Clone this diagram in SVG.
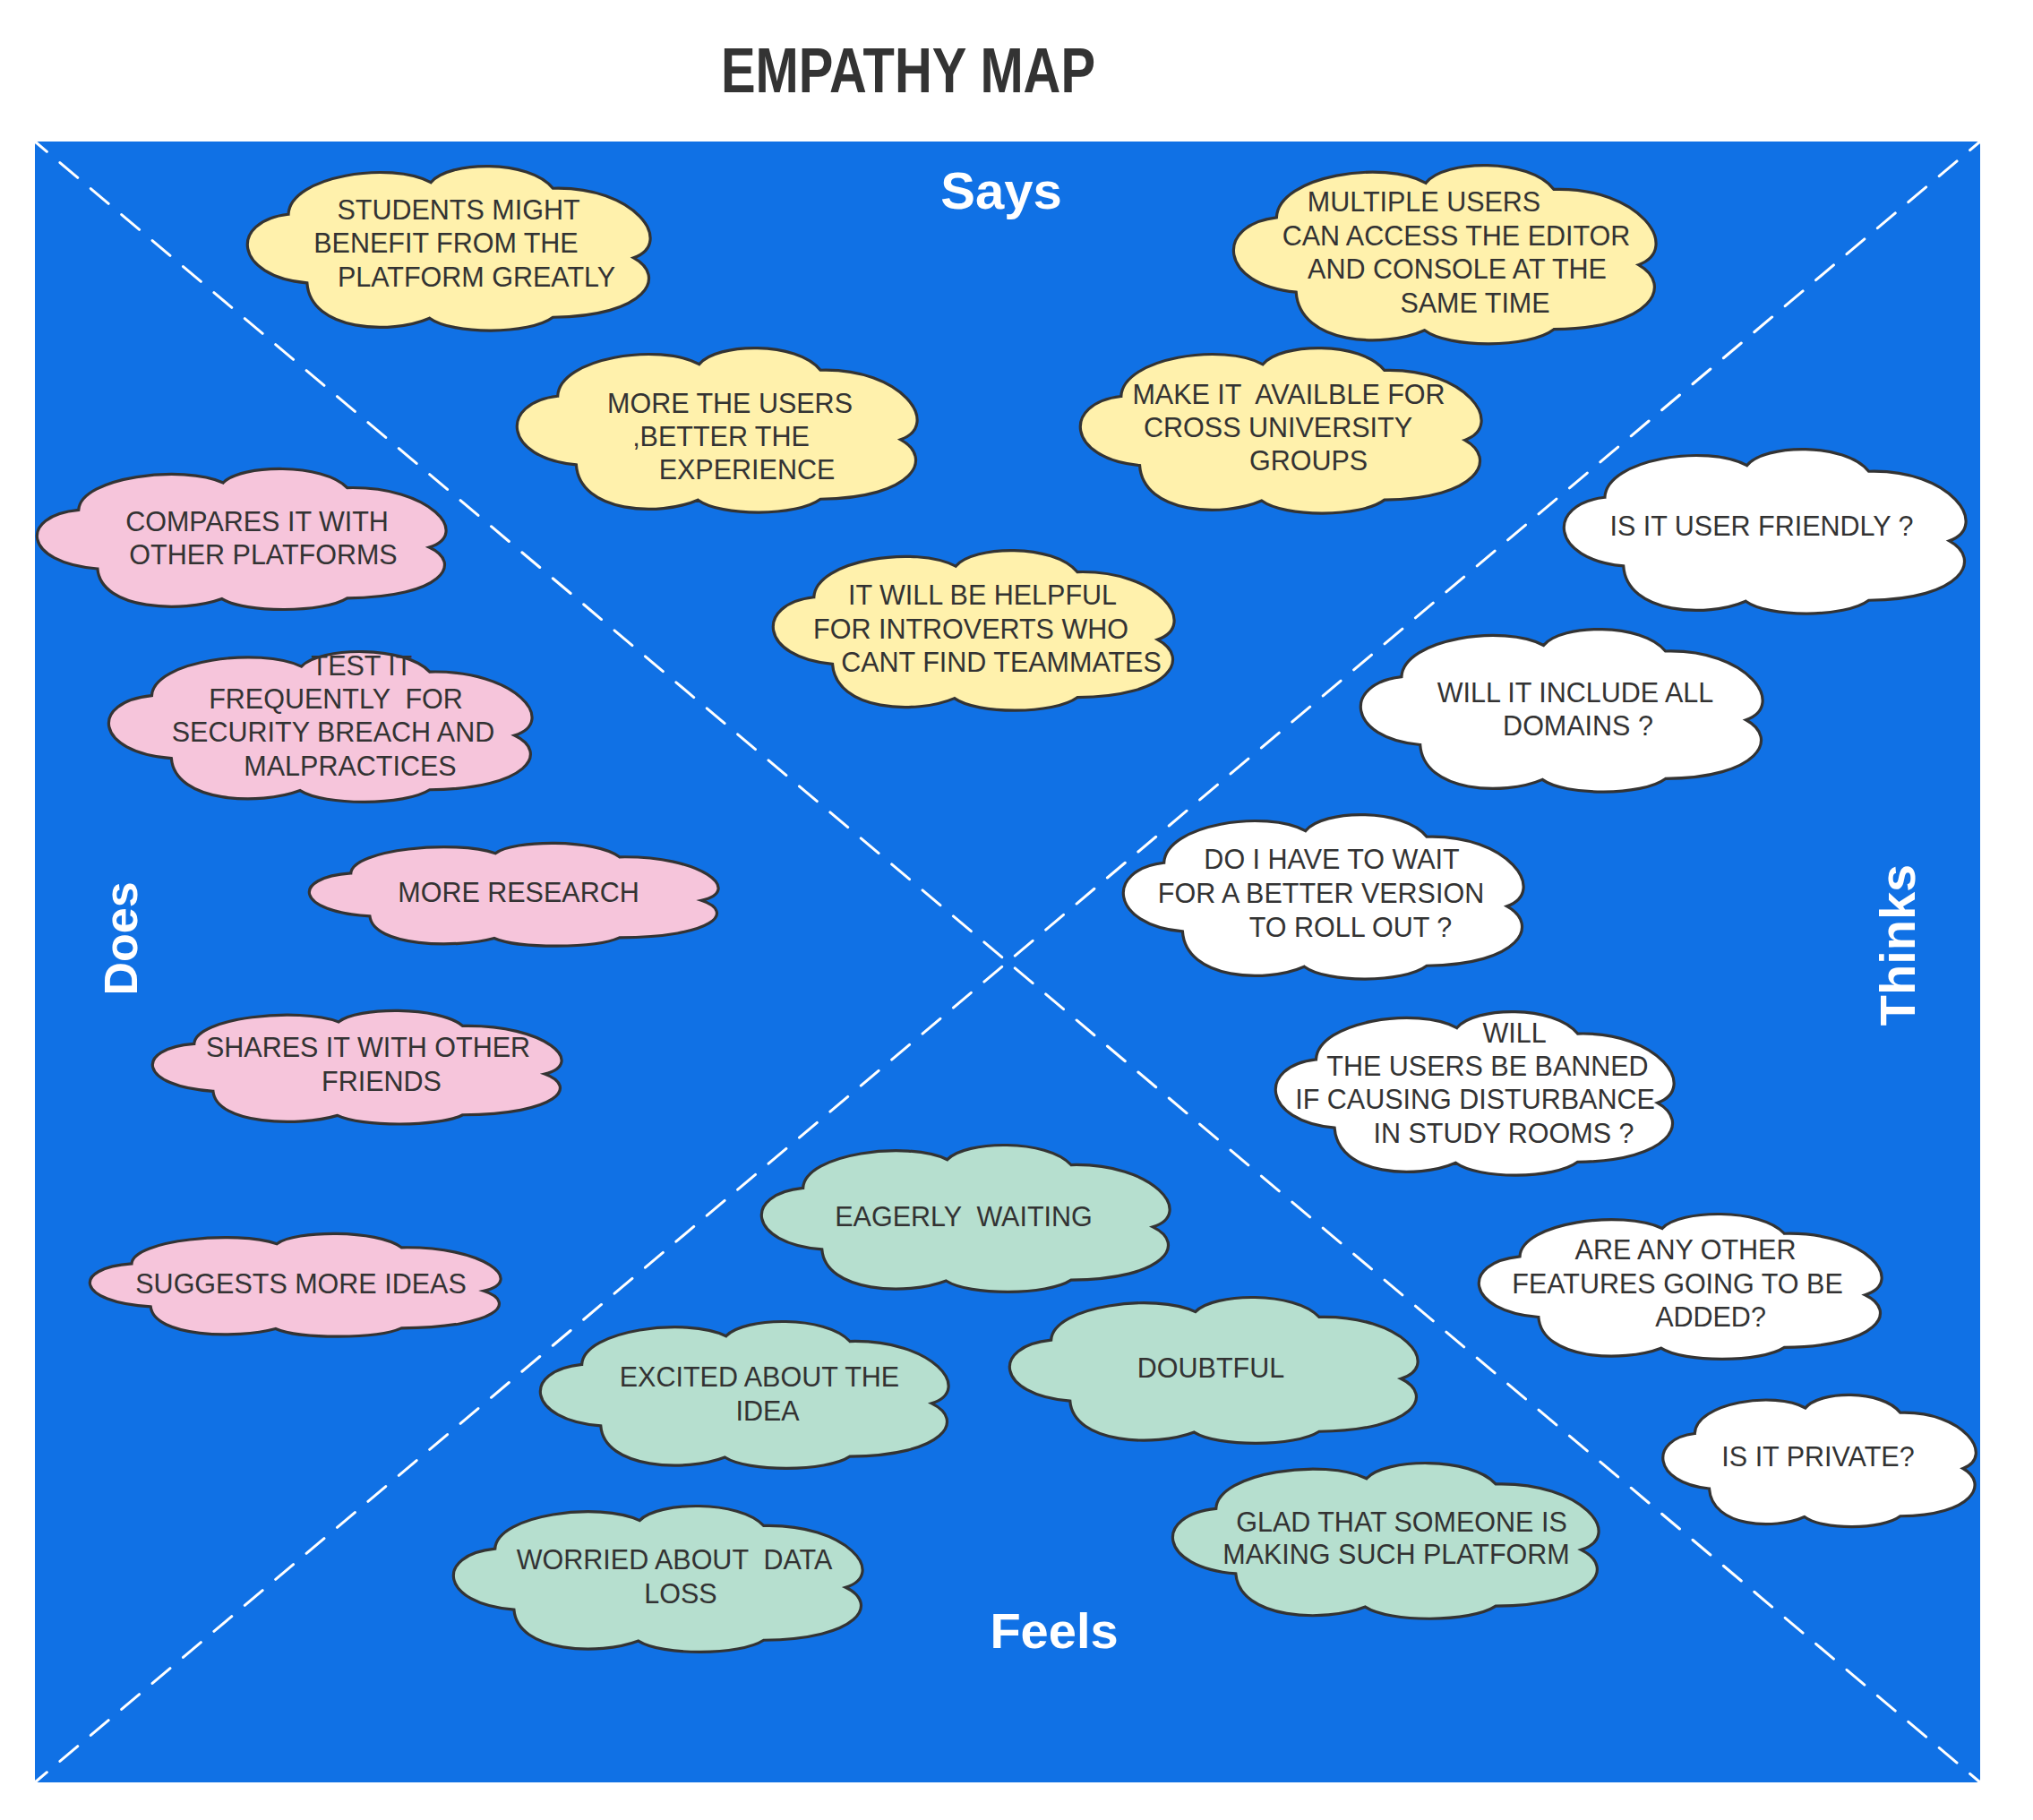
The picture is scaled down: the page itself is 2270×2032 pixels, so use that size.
<svg xmlns="http://www.w3.org/2000/svg" xmlns:xlink="http://www.w3.org/1999/xlink" width="2270" height="2032" viewBox="0 0 2270 2032">
<style>
.cl{stroke:#333333;stroke-width:3;}
.y{fill:#fff1ac}.p{fill:#f6c5db}.w{fill:#ffffff}.g{fill:#b6dfcf}
.t{font-family:"Liberation Sans",Arial,sans-serif;font-size:30.5px;fill:#333333;text-anchor:middle;white-space:pre}
.lbl{font-family:"Liberation Sans",Arial,sans-serif;font-weight:bold;fill:#ffffff;text-anchor:middle}
.dg{stroke:#ffffff;stroke-width:3;stroke-dasharray:26 19;stroke-dashoffset:8.5;stroke-linecap:round;fill:none}
</style>
<defs>
<path id="cloud" vector-effect="non-scaling-stroke" stroke="#333333" stroke-width="3.2" d="M10.6,29 C11,6 36,-3 45.7,10 C50,-3 70,-4 75.8,13.5 C96,12 106,46 95.7,55 C104,66 99,90 75.8,90.5 C70,101 51,101 45.4,91 C36,101 16,99 15.2,70 C-3,66 -4,33 10.6,29 Z"/>
</defs>
<rect width="2270" height="2032" fill="#ffffff"/>
<text x="1014" y="103" font-family="'Liberation Sans',Arial,sans-serif" font-weight="bold" font-size="70" fill="#333333" text-anchor="middle" textLength="418" lengthAdjust="spacingAndGlyphs">EMPATHY MAP</text>
<rect id="board" x="39" y="158" width="2172" height="1832" rx="4" fill="#1071e5"/>
<g id="connectors">
<line class="dg" x1="39" y1="158" x2="2211" y2="1990"/>
<line class="dg" x1="39" y1="1990" x2="2211" y2="158"/>
</g>
<g id="labels">
<text class="lbl" font-size="58" x="1118" y="233">Says</text>
<text class="lbl" font-size="56" x="1177" y="1840">Feels</text>
<text class="lbl" font-size="52" transform="translate(153,1048) rotate(-90)">Does</text>
<text class="lbl" font-size="56" transform="translate(2138,1055) rotate(-90)">Thinks</text>
</g>
<g id="n1"><use href="#cloud" class="y" transform="translate(274,185) scale(4.53,1.87)"/><text class="t"><tspan x="512" y="245">STUDENTS MIGHT</tspan><tspan x="498" y="282">BENEFIT FROM THE</tspan><tspan x="532" y="320">PLATFORM GREATLY</tspan></text></g>
<g id="n2"><use href="#cloud" class="y" transform="translate(1375,184) scale(4.75,2.03)"/><text class="t"><tspan x="1590" y="236">MULTIPLE USERS</tspan><tspan x="1626" y="274">CAN ACCESS THE EDITOR</tspan><tspan x="1627" y="311">AND CONSOLE AT THE</tspan><tspan x="1647" y="349">SAME TIME</tspan></text></g>
<g id="n3"><use href="#cloud" class="y" transform="translate(575,388) scale(4.5,1.87)"/><text class="t"><tspan x="815" y="461">MORE THE USERS</tspan><tspan x="805" y="498">,BETTER THE</tspan><tspan x="834" y="535">EXPERIENCE</tspan></text></g>
<g id="n4"><use href="#cloud" class="y" transform="translate(1204,388) scale(4.51,1.88)"/><text class="t"><tspan x="1439" y="451">MAKE IT  AVAILBLE FOR</tspan><tspan x="1427" y="488">CROSS UNIVERSITY</tspan><tspan x="1461" y="525">GROUPS</tspan></text></g>
<g id="n5"><use href="#cloud" class="y" transform="translate(861,614) scale(4.51,1.82)"/><text class="t"><tspan x="1097" y="675">IT WILL BE HELPFUL</tspan><tspan x="1084" y="713">FOR INTROVERTS WHO</tspan><tspan x="1118" y="750">CANT FIND TEAMMATES</tspan></text></g>
<g id="n6"><use href="#cloud" class="p" transform="translate(39,523) scale(4.6,1.6)"/><text class="t"><tspan x="287" y="593">COMPARES IT WITH</tspan><tspan x="294" y="630">OTHER PLATFORMS</tspan></text></g>
<g id="n7"><use href="#cloud" class="p" transform="translate(119,727) scale(4.76,1.71)"/><text class="t"><tspan x="404" y="754">TEST IT</tspan><tspan x="375" y="791">FREQUENTLY  FOR</tspan><tspan x="372" y="828">SECURITY BREACH AND</tspan><tspan x="391" y="866">MALPRACTICES</tspan></text></g>
<g id="n8"><use href="#cloud" class="p" transform="translate(343,941) scale(4.6,1.17)"/><text class="t" x="579" y="1007">MORE RESEARCH</text></g>
<g id="n9"><use href="#cloud" class="p" transform="translate(168,1128) scale(4.6,1.29)"/><text class="t"><tspan x="411" y="1180">SHARES IT WITH OTHER</tspan><tspan x="426" y="1218">FRIENDS</tspan></text></g>
<g id="n10"><use href="#cloud" class="p" transform="translate(98,1377) scale(4.62,1.17)"/><text class="t" x="336" y="1444">SUGGESTS MORE IDEAS</text></g>
<g id="n11"><use href="#cloud" class="w" transform="translate(1744,501) scale(4.52,1.87)"/><text class="t" x="1967" y="598">IS IT USER FRIENDLY ?</text></g>
<g id="n12"><use href="#cloud" class="w" transform="translate(1517,702) scale(4.52,1.85)"/><text class="t"><tspan x="1759" y="784">WILL IT INCLUDE ALL</tspan><tspan x="1762" y="821">DOMAINS ?</tspan></text></g>
<g id="n13"><use href="#cloud" class="w" transform="translate(1252,909) scale(4.5,1.87)"/><text class="t"><tspan x="1487" y="970">DO I HAVE TO WAIT</tspan><tspan x="1475" y="1008">FOR A BETTER VERSION</tspan><tspan x="1508" y="1046">TO ROLL OUT ?</tspan></text></g>
<g id="n14"><use href="#cloud" class="w" transform="translate(1422,1129) scale(4.48,1.86)"/><text class="t"><tspan x="1691" y="1164">WILL</tspan><tspan x="1661" y="1201">THE USERS BE BANNED</tspan><tspan x="1647" y="1238">IF CAUSING DISTURBANCE</tspan><tspan x="1679" y="1276">IN STUDY ROOMS ?</tspan></text></g>
<g id="n15"><use href="#cloud" class="w" transform="translate(1649,1355) scale(4.53,1.65)"/><text class="t"><tspan x="1882" y="1406">ARE ANY OTHER</tspan><tspan x="1873" y="1444">FEATURES GOING TO BE</tspan><tspan x="1910" y="1481">ADDED?</tspan></text></g>
<g id="n16"><use href="#cloud" class="w" transform="translate(1855,1557) scale(3.52,1.5)"/><text class="t" x="2030" y="1637">IS IT PRIVATE?</text></g>
<g id="n17"><use href="#cloud" class="g" transform="translate(848,1278) scale(4.59,1.67)"/><text class="t" x="1076" y="1369">EAGERLY  WAITING</text></g>
<g id="n18"><use href="#cloud" class="g" transform="translate(601,1475) scale(4.59,1.67)"/><text class="t"><tspan x="848" y="1548">EXCITED ABOUT THE</tspan><tspan x="857" y="1586">IDEA</tspan></text></g>
<g id="n19"><use href="#cloud" class="g" transform="translate(1125,1448) scale(4.59,1.66)"/><text class="t" x="1352" y="1538">DOUBTFUL</text></g>
<g id="n20"><use href="#cloud" class="g" transform="translate(504,1681) scale(4.6,1.66)"/><text class="t"><tspan x="753" y="1752">WORRIED ABOUT  DATA</tspan><tspan x="760" y="1790">LOSS</tspan></text></g>
<g id="n21"><use href="#cloud" class="g" transform="translate(1307,1633) scale(4.79,1.77)"/><text class="t"><tspan x="1565" y="1710">GLAD THAT SOMEONE IS</tspan><tspan x="1559" y="1746">MAKING SUCH PLATFORM</tspan></text></g>
</svg>
